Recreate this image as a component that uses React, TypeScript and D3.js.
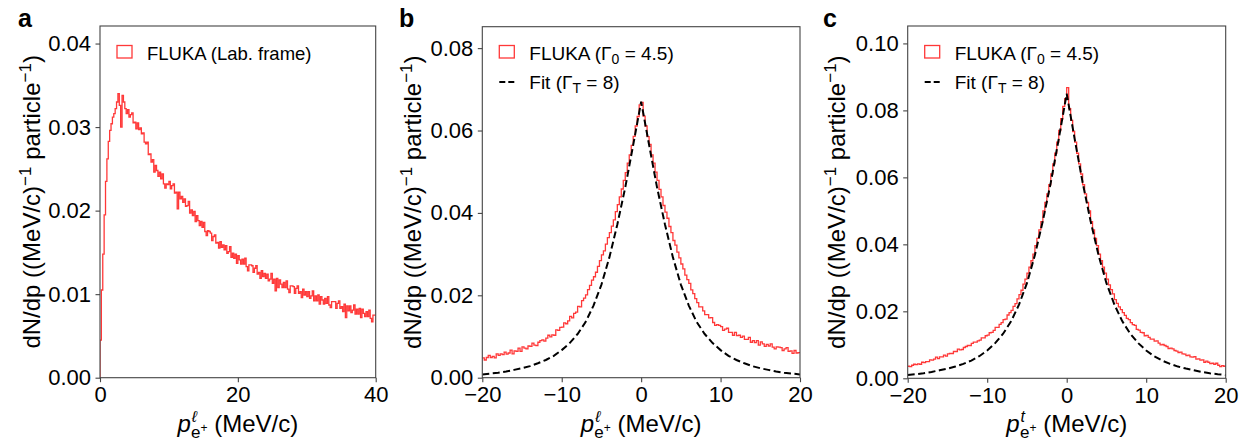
import React, { useEffect, useRef } from 'react';
import * as d3 from 'd3';

// a: lab frame momentum, 0.2 MeV/c bins starting at 0
const labBinStart = 0;
const labBinWidth = 0.2;
const labHist = [
  0.0045, 0.0105, 0.0148, 0.0195, 0.0235, 0.0262, 0.0283, 0.0296, 0.0304, 0.0312,
  0.0316, 0.0322, 0.0330, 0.0340, 0.0326, 0.0300, 0.0338, 0.0330, 0.0322, 0.0316,
  0.0321, 0.0312, 0.0315, 0.0317, 0.0305, 0.0306, 0.0298, 0.0305, 0.0297, 0.0299,
  0.0292, 0.0293, 0.0282, 0.0280, 0.0282, 0.0267, 0.0268, 0.0258, 0.0261, 0.0246,
  0.0254, 0.0248, 0.0241, 0.0246, 0.0238, 0.0244, 0.0232, 0.0227, 0.0232, 0.0231,
  0.0235, 0.0226, 0.0230, 0.0232, 0.0221, 0.0222, 0.0202, 0.0222, 0.0214, 0.0217,
  0.0210, 0.0214, 0.0205, 0.0206, 0.0211, 0.0197, 0.0201, 0.0194, 0.0199, 0.0187,
  0.0194, 0.0188, 0.0182, 0.0187, 0.0180, 0.0186, 0.0175, 0.0170, 0.0176, 0.0175,
  0.0173, 0.0164, 0.0169, 0.0171, 0.0161, 0.0162, 0.0155, 0.0163, 0.0156, 0.0159,
  0.0153, 0.0158, 0.0149, 0.0151, 0.0157, 0.0144, 0.0149, 0.0143, 0.0148, 0.0137,
  0.0146, 0.0141, 0.0136, 0.0142, 0.0136, 0.0143, 0.0133, 0.0128, 0.0135, 0.0135,
  0.0134, 0.0126, 0.0131, 0.0134, 0.0124, 0.0126, 0.0119, 0.0128, 0.0121, 0.0125,
  0.0119, 0.0124, 0.0116, 0.0118, 0.0125, 0.0113, 0.0118, 0.0104, 0.0119, 0.0108,
  0.0117, 0.0112, 0.0108, 0.0114, 0.0108, 0.0116, 0.0106, 0.0102, 0.0110, 0.0110,
  0.0109, 0.0101, 0.0107, 0.0110, 0.0101, 0.0103, 0.0096, 0.0106, 0.0099, 0.0103,
  0.0097, 0.0103, 0.0095, 0.0098, 0.0104, 0.0092, 0.0098, 0.0092, 0.0099, 0.0088,
  0.0097, 0.0093, 0.0088, 0.0095, 0.0089, 0.0097, 0.0087, 0.0084, 0.0091, 0.0091,
  0.0091, 0.0083, 0.0089, 0.0092, 0.0083, 0.0085, 0.0079, 0.0088, 0.0072, 0.0086,
  0.0080, 0.0086, 0.0078, 0.0081, 0.0087, 0.0076, 0.0082, 0.0076, 0.0083, 0.0072,
  0.0082, 0.0077, 0.0073, 0.0079, 0.0073, 0.0081, 0.0071, 0.0067, 0.0075, 0.0075,
];

// b, c: 0.25 MeV/c bins starting at -20
const symBinStart = -20;
const symBinWidth = 0.25;
const longHist = [
  0.0048, 0.0043, 0.0049, 0.0054, 0.0049, 0.0052, 0.0048, 0.0058, 0.0054, 0.0058,
  0.0056, 0.0062, 0.0057, 0.0060, 0.0067, 0.0058, 0.0065, 0.0064, 0.0072, 0.0064,
  0.0075, 0.0072, 0.0070, 0.0077, 0.0076, 0.0084, 0.0079, 0.0078, 0.0086, 0.0090,
  0.0092, 0.0089, 0.0096, 0.0103, 0.0099, 0.0104, 0.0103, 0.0116, 0.0115, 0.0122,
  0.0123, 0.0133, 0.0131, 0.0138, 0.0149, 0.0145, 0.0156, 0.0159, 0.0173, 0.0172,
  0.0187, 0.0193, 0.0201, 0.0214, 0.0224, 0.0237, 0.0245, 0.0256, 0.0270, 0.0284,
  0.0298, 0.0308, 0.0324, 0.0340, 0.0352, 0.0368, 0.0383, 0.0403, 0.0420, 0.0439,
  0.0458, 0.0479, 0.0498, 0.0521, 0.0541, 0.0564, 0.0586, 0.0611, 0.0634, 0.0662,
  0.0668, 0.0635, 0.0611, 0.0585, 0.0566, 0.0541, 0.0521, 0.0499, 0.0479, 0.0457,
  0.0439, 0.0418, 0.0402, 0.0387, 0.0367, 0.0352, 0.0333, 0.0322, 0.0305, 0.0291,
  0.0276, 0.0264, 0.0249, 0.0238, 0.0229, 0.0213, 0.0204, 0.0192, 0.0182, 0.0172,
  0.0172, 0.0162, 0.0153, 0.0153, 0.0145, 0.0146, 0.0134, 0.0127, 0.0129, 0.0127,
  0.0124, 0.0115, 0.0118, 0.0120, 0.0110, 0.0110, 0.0103, 0.0110, 0.0102, 0.0103,
  0.0098, 0.0101, 0.0093, 0.0093, 0.0098, 0.0086, 0.0090, 0.0085, 0.0090, 0.0079,
  0.0087, 0.0082, 0.0076, 0.0081, 0.0077, 0.0082, 0.0074, 0.0070, 0.0075, 0.0074,
  0.0073, 0.0066, 0.0070, 0.0073, 0.0064, 0.0065, 0.0059, 0.0066, 0.0060, 0.0061,
];
const transHist = [
  0.0036, 0.0035, 0.0039, 0.0042, 0.0041, 0.0043, 0.0042, 0.0048, 0.0047, 0.0050,
  0.0050, 0.0055, 0.0054, 0.0057, 0.0063, 0.0059, 0.0064, 0.0064, 0.0069, 0.0066,
  0.0073, 0.0074, 0.0074, 0.0080, 0.0080, 0.0087, 0.0085, 0.0086, 0.0092, 0.0095,
  0.0098, 0.0098, 0.0104, 0.0108, 0.0108, 0.0112, 0.0114, 0.0121, 0.0121, 0.0127,
  0.0129, 0.0136, 0.0137, 0.0143, 0.0152, 0.0152, 0.0161, 0.0166, 0.0175, 0.0177,
  0.0189, 0.0196, 0.0203, 0.0215, 0.0223, 0.0237, 0.0250, 0.0263, 0.0281, 0.0296,
  0.0314, 0.0332, 0.0351, 0.0371, 0.0396, 0.0418, 0.0443, 0.0468, 0.0500, 0.0525,
  0.0551, 0.0578, 0.0610, 0.0640, 0.0672, 0.0705, 0.0740, 0.0775, 0.0812, 0.0835,
  0.0868, 0.0805, 0.0770, 0.0737, 0.0705, 0.0672, 0.0640, 0.0610, 0.0578, 0.0551,
  0.0525, 0.0500, 0.0468, 0.0443, 0.0418, 0.0396, 0.0371, 0.0351, 0.0332, 0.0314,
  0.0296, 0.0279, 0.0265, 0.0252, 0.0235, 0.0224, 0.0213, 0.0205, 0.0196, 0.0188,
  0.0179, 0.0175, 0.0166, 0.0160, 0.0158, 0.0146, 0.0144, 0.0137, 0.0136, 0.0127,
  0.0128, 0.0122, 0.0117, 0.0117, 0.0111, 0.0112, 0.0105, 0.0100, 0.0101, 0.0098,
  0.0095, 0.0089, 0.0090, 0.0088, 0.0083, 0.0081, 0.0077, 0.0078, 0.0073, 0.0072,
  0.0068, 0.0069, 0.0064, 0.0063, 0.0065, 0.0057, 0.0058, 0.0054, 0.0055, 0.0048,
  0.0051, 0.0048, 0.0044, 0.0045, 0.0042, 0.0045, 0.0039, 0.0035, 0.0038, 0.0036,
];

// fit curves (Gamma_T = 8), one point per MeV/c
const fitMomenta = [
  -20, -19, -18, -17, -16, -15, -14, -13, -12, -11, -10, -9, -8, -7, -6, -5, -4, -3, -2, -1,
  0, 1, 2, 3, 4, 5, 6, 7, 8, 9, 10, 11, 12, 13, 14, 15, 16, 17, 18, 19, 20,
];
const longFit = [
  0.0008, 0.0010, 0.0012, 0.0015, 0.0019, 0.0023, 0.0028, 0.0035, 0.0043, 0.0053, 0.0067,
  0.0084, 0.0106, 0.0135, 0.0175, 0.0226, 0.0292, 0.0372, 0.0462, 0.0565,
  0.0670,
  0.0565, 0.0462, 0.0372, 0.0292, 0.0226, 0.0175, 0.0135, 0.0106, 0.0084,
  0.0067, 0.0053, 0.0043, 0.0035, 0.0028, 0.0023, 0.0019, 0.0015, 0.0012, 0.0010, 0.0008,
];
const transFit = [
  0.0010, 0.0012, 0.0015, 0.0019, 0.0024, 0.0029, 0.0035, 0.0043, 0.0053, 0.0066, 0.0083,
  0.0105, 0.0133, 0.0170, 0.0220, 0.0284, 0.0368, 0.0470, 0.0585, 0.0715,
  0.0850,
  0.0715, 0.0585, 0.0470, 0.0368, 0.0284, 0.0220, 0.0170, 0.0133, 0.0105,
  0.0083, 0.0066, 0.0053, 0.0043, 0.0035, 0.0029, 0.0024, 0.0019, 0.0015, 0.0012, 0.0010,
];

const yTicksA = [0, 0.01, 0.02, 0.03, 0.04];
const yTicksB = [0, 0.02, 0.04, 0.06, 0.08];
const yTicksC = [0, 0.02, 0.04, 0.06, 0.08, 0.10];
const xTicksA = [0, 20, 40];
const xTicksBC = [-20, -10, 0, 10, 20];

const FONT = "'Liberation Sans', Arial, Helvetica, sans-serif";
const RED = '#ff3838';

const panels = [
  {
    id: 'a', letterX: 18, left: 100, right: 375.7, top: 26, bottom: 377.7, labelX: 40,
    xDomain: [0, 40], yDomain: [0, 0.0421], xTicks: xTicksA, yTicks: yTicksA,
    hist: labHist, binStart: labBinStart, binWidth: labBinWidth, fromZero: true,
    fit: null, histLabel: 'lab', sup: 'ℓ',
  },
  {
    id: 'b', letterX: 399, left: 482.3, right: 800, top: 26.7, bottom: 377.7, labelX: 421,
    xDomain: [-20, 20], yDomain: [0, 0.0852], xTicks: xTicksBC, yTicks: yTicksB,
    hist: longHist, binStart: symBinStart, binWidth: symBinWidth, fromZero: false,
    fit: longFit, histLabel: 'gamma', sup: 'ℓ',
  },
  {
    id: 'c', letterX: 823, left: 907.7, right: 1225.7, top: 26, bottom: 378.3, labelX: 845,
    xDomain: [-20, 20], yDomain: [0, 0.1052], xTicks: xTicksBC, yTicks: yTicksC,
    hist: transHist, binStart: symBinStart, binWidth: symBinWidth, fromZero: false,
    fit: transFit, histLabel: 'gamma', sup: 't',
  },
];

const App = () => {
  const svgRef = useRef<SVGSVGElement>(null);

  useEffect(() => {
    const svg = d3.select(svgRef.current);
    svg.selectAll('*').remove();

    panels.forEach(p => {
      const x = d3.scaleLinear().domain(p.xDomain).range([p.left, p.right]);
      const y = d3.scaleLinear().domain(p.yDomain).range([p.bottom, p.top]);
      const g = svg.append('g');

      g.append('clipPath').attr('id', `clip-${p.id}`)
        .append('rect')
        .attr('x', p.left).attr('y', p.top)
        .attr('width', p.right - p.left).attr('height', p.bottom - p.top);

      // histogram drawn as steps
      const pts: [number, number][] = p.hist.map((v, i) => [p.binStart + i * p.binWidth, v]);
      pts.push([p.binStart + p.hist.length * p.binWidth, p.hist[p.hist.length - 1]]);
      if (p.fromZero) pts.unshift([p.binStart, 0]);
      const step = d3.line<[number, number]>()
        .x(d => x(d[0])).y(d => y(d[1]))
        .curve(d3.curveStepAfter);
      g.append('path')
        .attr('clip-path', `url(#clip-${p.id})`)
        .attr('d', step(pts))
        .attr('fill', 'none')
        .attr('stroke', RED)
        .attr('stroke-width', 1.3);

      if (p.fit) {
        const fitLine = d3.line<number>()
          .x((_, i) => x(fitMomenta[i])).y(d => y(d));
        g.append('path')
          .attr('clip-path', `url(#clip-${p.id})`)
          .attr('d', fitLine(p.fit))
          .attr('fill', 'none')
          .attr('stroke', '#000')
          .attr('stroke-width', 2)
          .attr('stroke-dasharray', '7,3.5');
      }

      // frame
      g.append('rect')
        .attr('x', p.left).attr('y', p.top)
        .attr('width', p.right - p.left).attr('height', p.bottom - p.top)
        .attr('fill', 'none').attr('stroke', '#444').attr('stroke-width', 1.1);

      const fmtX = (d: number) => (d < 0 ? `\u2212${Math.abs(d)}` : `${d}`);
      const yAxis = g.append('g')
        .attr('transform', `translate(${p.left},0)`)
        .call(d3.axisLeft(y).tickValues(p.yTicks).tickSize(4.5).tickPadding(4.5)
          .tickFormat(d => d3.format('.2f')(d as number)));
      const xAxis = g.append('g')
        .attr('transform', `translate(0,${p.bottom})`)
        .call(d3.axisBottom(x).tickValues(p.xTicks).tickSize(4.5).tickPadding(4.5)
          .tickFormat(d => fmtX(d as number)));
      [yAxis, xAxis].forEach(ax => {
        ax.select('.domain').remove();
        ax.attr('font-family', FONT).attr('font-size', 22);
        ax.selectAll('line').attr('stroke', '#444').attr('stroke-width', 1.1);
        ax.selectAll('text').attr('fill', '#000');
      });

      // panel letter
      svg.append('text')
        .attr('x', p.letterX).attr('y', 27)
        .attr('font-family', FONT).attr('font-weight', 'bold').attr('font-size', 25)
        .text(p.id);

      // y label
      const cy = (p.top + p.bottom) / 2;
      const yl = svg.append('text')
        .attr('transform', `translate(${p.labelX},${cy}) rotate(-90)`)
        .attr('text-anchor', 'middle')
        .attr('font-family', FONT).attr('font-size', 24);
      yl.append('tspan').text('dN/dp ((MeV/c)');
      yl.append('tspan').attr('font-size', 17).attr('dy', -9).text('\u22121');
      yl.append('tspan').attr('dy', 9).text(' particle');
      yl.append('tspan').attr('font-size', 17).attr('dy', -9).text('\u22121');
      yl.append('tspan').attr('dy', 9).text(')');

      // x label
      const xl = svg.append('text')
        .attr('x', (p.left + p.right) / 2).attr('y', 432)
        .attr('text-anchor', 'middle')
        .attr('font-family', FONT).attr('font-size', 24);
      xl.append('tspan').attr('font-style', 'italic').text('p');
      xl.append('tspan').attr('font-style', 'italic').attr('font-size', 16).attr('dy', -10).attr('dx', 1).text(p.sup);
      xl.append('tspan').attr('font-size', 17).attr('dy', 16).attr('dx', p.sup === 't' ? -5 : -6).text('e');
      xl.append('tspan').attr('font-size', 12).attr('dy', -6).text('+');
      xl.append('tspan').attr('dy', 0).text(' (MeV/c)');

      // legend
      const lx = p.left + 17;
      g.append('rect')
        .attr('x', lx).attr('y', 45.5).attr('width', 15).attr('height', 12.5)
        .attr('fill', 'none').attr('stroke', RED).attr('stroke-width', 1.3);
      const t1 = g.append('text')
        .attr('x', lx + 30).attr('y', 59.5)
        .attr('font-family', FONT).attr('font-size', 19);
      if (p.histLabel === 'lab') {
        t1.attr('font-size', 18.5).text('FLUKA (Lab. frame)');
      } else {
        t1.append('tspan').text('FLUKA (\u0393');
        t1.append('tspan').attr('font-size', 14).attr('dy', 4).text('0');
        t1.append('tspan').attr('dy', -4).text(' = 4.5)');
      }
      if (p.fit) {
        g.append('line')
          .attr('x1', lx).attr('x2', lx + 15).attr('y1', 82).attr('y2', 82)
          .attr('stroke', '#000').attr('stroke-width', 2).attr('stroke-dasharray', '6,3');
        const t2 = g.append('text')
          .attr('x', lx + 30).attr('y', 89)
          .attr('font-family', FONT).attr('font-size', 19);
        t2.append('tspan').text('Fit (\u0393');
        t2.append('tspan').attr('font-size', 14).attr('dy', 4).text('T');
        t2.append('tspan').attr('dy', -4).text(' = 8)');
      }
    });
  }, []);

  return (
    <svg ref={svgRef} width={1246} height={443}
      style={{ position: 'absolute', left: 0, top: 0, background: '#fff' }} />
  );
};

export default App;
